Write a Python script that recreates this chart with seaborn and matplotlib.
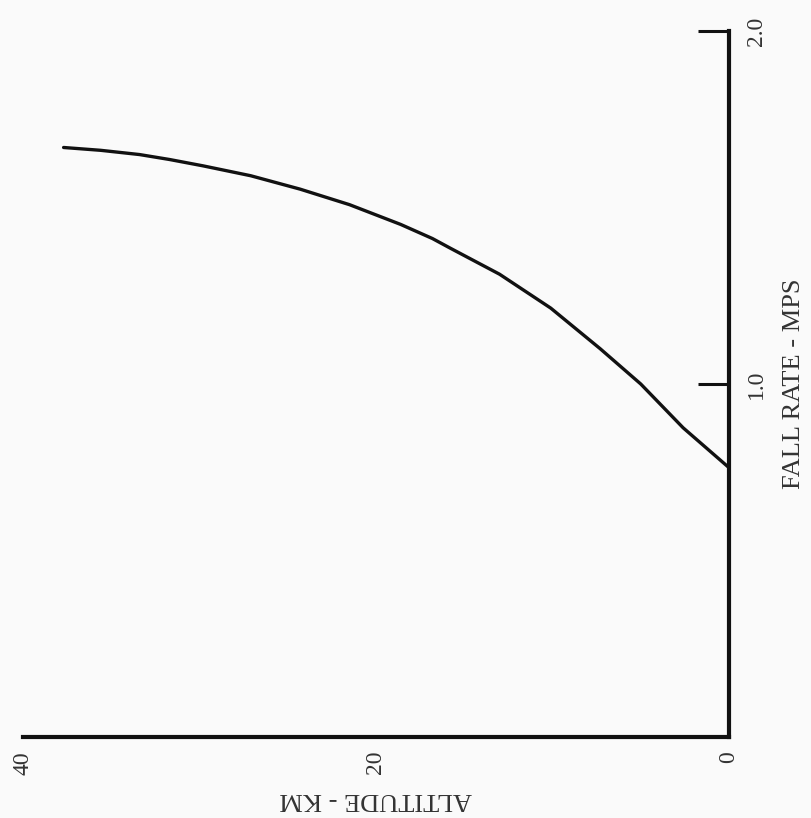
import matplotlib
matplotlib.use("Agg")
import matplotlib.pyplot as plt
import seaborn as sns

# Data
altitude_km = [37.7, 35.6, 33.4, 31.7, 29.8, 27.1, 24.3, 21.5, 18.6, 16.8, 15.8, 13.0, 10.1, 7.3, 5.0, 2.6, 0.0]
fall_rate_mps = [1.67, 1.662, 1.65, 1.636, 1.618, 1.59, 1.552, 1.508, 1.452, 1.412, 1.385, 1.311, 1.215, 1.10, 1.00, 0.876, 0.763]

x_ticks = [40, 20, 0]
x_tick_labels = ["40", "20", "0"]
y_ticks = [1.0, 2.0]
y_tick_labels = ["1.0", "2.0"]

sns.set_style("white")
plt.rcParams['font.family'] = ['Liberation Serif', 'DejaVu Serif']

fig = plt.figure(figsize=(8.12, 8.18), dpi=100)
fig.patch.set_facecolor("#fafafa")
ax = fig.add_axes([23 / 812, 81 / 818, 706 / 812, 706 / 818])
ax.set_facecolor("#fafafa")

sns.lineplot(x=altitude_km, y=fall_rate_mps, ax=ax, color="#111111", linewidth=2.4,
             solid_capstyle="round", solid_joinstyle="round")

ax.set_xlim(40, 0)
ax.set_ylim(0, 2.0)

for s in ["top", "left"]:
    ax.spines[s].set_visible(False)
for s in ["bottom", "right"]:
    ax.spines[s].set_linewidth(3.0)
    ax.spines[s].set_color("#111111")
    ax.spines[s].set_capstyle("projecting")

ax.yaxis.tick_right()
ax.yaxis.set_label_position("right")

ax.set_xticks(x_ticks)
ax.set_xticklabels(x_tick_labels)
ax.set_yticks(y_ticks)
ax.set_yticklabels(y_tick_labels)

ax.tick_params(axis="x", direction="in", length=22, width=2.2, pad=10,
               labelsize=17, labelrotation=90, color="#111111", labelcolor="#333333")
ax.tick_params(axis="y", direction="in", length=22, width=2.2, pad=12,
               labelsize=17, labelrotation=90, color="#111111", labelcolor="#333333",
               left=False, right=True)
for lab in ax.get_yticklabels():
    lab.set_va("center")

ax.set_xlabel("ALTITUDE - KM", rotation=180, fontsize=19, labelpad=10, color="#333333")
ax.set_ylabel("FALL RATE - MPS", rotation=90, fontsize=19, labelpad=12, color="#333333")

fig.savefig("out.png", dpi=100, facecolor=fig.get_facecolor())
